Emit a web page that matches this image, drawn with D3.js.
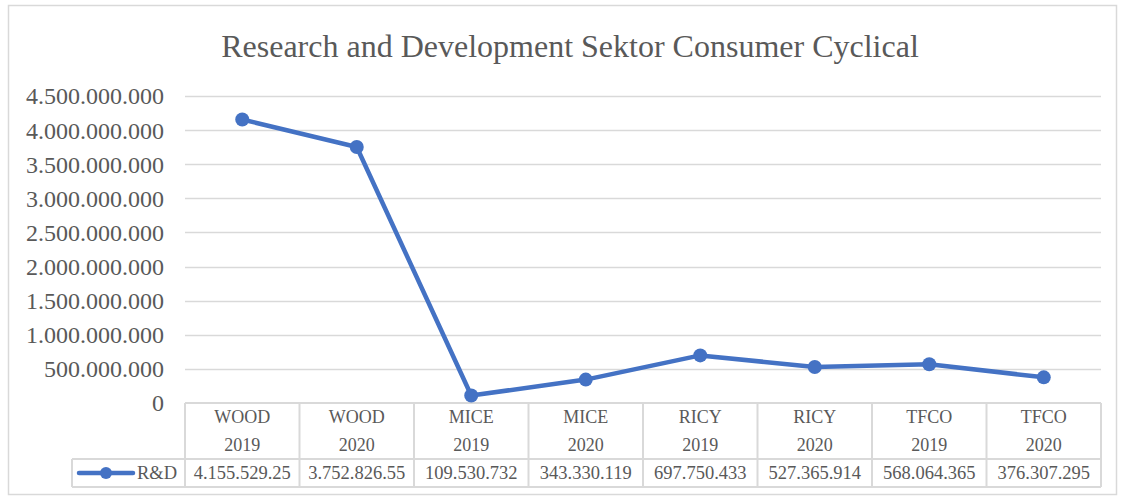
<!DOCTYPE html>
<html>
<head>
<meta charset="utf-8">
<script src="https://cdn.jsdelivr.net/npm/d3@7"></script>
<style>
  body { margin: 0; background: #fff; }
  text { font-family: "Liberation Serif", "Times New Roman", serif; fill: #595959; }
</style>
</head>
<body>
<div id="chart"></div>
<script>
// Data
const companies = ["WOOD", "WOOD", "MICE", "MICE", "RICY", "RICY", "TFCO", "TFCO"];
const years = ["2019", "2020", "2019", "2020", "2019", "2020", "2019", "2020"];
const rdValues = [4155529250, 3752826550, 109530732, 343330119, 697750433, 527365914, 568064365, 376307295];
const rdLabels = ["4.155.529.25", "3.752.826.55", "109.530.732", "343.330.119", "697.750.433", "527.365.914", "568.064.365", "376.307.295"];
const yTicks = [0, 500000000, 1000000000, 1500000000, 2000000000, 2500000000, 3000000000, 3500000000, 4000000000, 4500000000];
const seriesName = "R&D";
const chartTitle = "Research and Development Sektor Consumer Cyclical";

const width = 1137;
const height = 499;
const plot = { left: 185, right: 1101, top: 96, bottom: 403 };
const lineColor = "#4472C4";
const gridColor = "#d9d9d9";

const svg = d3.select("#chart")
  .append("svg")
  .attr("width", width)
  .attr("height", height);

// Outer border
svg.append("rect")
  .attr("x", 8.5).attr("y", 5.5)
  .attr("width", 1108).attr("height", 489)
  .attr("fill", "#fff")
  .attr("stroke", gridColor)
  .attr("stroke-width", 1.5);

// Title
svg.append("text")
  .attr("x", 570)
  .attr("y", 57)
  .attr("text-anchor", "middle")
  .style("font-size", "32px")
  .text(chartTitle);

const keys = companies.map((c, i) => i);
const xScale = d3.scaleBand()
  .domain(keys)
  .range([plot.left, plot.right])
  .padding(0);

const yScale = d3.scaleLinear()
  .domain([0, 4500000000])
  .range([plot.bottom, plot.top]);

const fmt = v => v === 0 ? "0" : d3.format(",")(v).replace(/,/g, ".");

// Gridlines
svg.append("g")
  .selectAll("line")
  .data(yTicks.filter(d => d > 0))
  .enter().append("line")
    .attr("x1", plot.left)
    .attr("x2", plot.right)
    .attr("y1", d => Math.round(yScale(d)) + 0.5)
    .attr("y2", d => Math.round(yScale(d)) + 0.5)
    .attr("stroke", gridColor)
    .attr("stroke-width", 1.5);

// Y tick labels
svg.append("g")
  .selectAll("text")
  .data(yTicks)
  .enter().append("text")
    .attr("x", 164)
    .attr("y", d => yScale(d))
    .attr("dy", "0.35em")
    .attr("text-anchor", "end")
    .style("font-size", "24px")
    .text(fmt);

// Data table
const table = svg.append("g");
const rowTop = plot.bottom, rowMid = 459, rowBot = 487, legendLeft = 72;

table.append("line")
  .attr("x1", plot.left).attr("x2", plot.right)
  .attr("y1", rowTop).attr("y2", rowTop);
table.append("line")
  .attr("x1", legendLeft).attr("x2", plot.right)
  .attr("y1", rowMid).attr("y2", rowMid);
table.append("line")
  .attr("x1", legendLeft).attr("x2", plot.right)
  .attr("y1", rowBot).attr("y2", rowBot);
table.append("line")
  .attr("x1", legendLeft).attr("x2", legendLeft)
  .attr("y1", rowMid).attr("y2", rowBot);

table.selectAll(".vline")
  .data(keys.concat([keys.length]))
  .enter().append("line")
    .attr("class", "vline")
    .attr("x1", d => d < keys.length ? xScale(d) : plot.right)
    .attr("x2", d => d < keys.length ? xScale(d) : plot.right)
    .attr("y1", rowTop).attr("y2", rowBot);

table.selectAll("line")
  .attr("stroke", gridColor)
  .attr("stroke-width", 2);

const cx = i => xScale(i) + xScale.bandwidth() / 2;

table.selectAll(".cat1")
  .data(keys)
  .enter().append("text")
    .attr("x", cx)
    .attr("y", 417)
    .attr("dy", "0.35em")
    .attr("text-anchor", "middle")
    .style("font-size", "18px")
    .text(i => companies[i]);

table.selectAll(".cat2")
  .data(keys)
  .enter().append("text")
    .attr("x", cx)
    .attr("y", 445)
    .attr("dy", "0.35em")
    .attr("text-anchor", "middle")
    .style("font-size", "18px")
    .text(i => years[i]);

table.selectAll(".val")
  .data(keys)
  .enter().append("text")
    .attr("x", cx)
    .attr("y", 473)
    .attr("dy", "0.35em")
    .attr("text-anchor", "middle")
    .style("font-size", "18.5px")
    .text(i => rdLabels[i]);

// Legend key in table
table.append("line")
  .attr("x1", 79).attr("x2", 133)
  .attr("y1", 473).attr("y2", 473)
  .attr("stroke", lineColor)
  .attr("stroke-width", 4.5)
  .attr("stroke-linecap", "round");
table.append("circle")
  .attr("cx", 106).attr("cy", 473).attr("r", 6)
  .attr("fill", lineColor);
table.append("text")
  .attr("x", 137)
  .attr("y", 473)
  .attr("dy", "0.35em")
  .style("font-size", "18.5px")
  .text(seriesName);

// Line + markers
const line = d3.line()
  .x(i => cx(i))
  .y(i => yScale(rdValues[i]));

svg.append("path")
  .datum(keys)
  .attr("fill", "none")
  .attr("stroke", lineColor)
  .attr("stroke-width", 4.5)
  .attr("stroke-linejoin", "round")
  .attr("d", line);

svg.append("g")
  .selectAll("circle")
  .data(keys)
  .enter().append("circle")
    .attr("cx", cx)
    .attr("cy", i => yScale(rdValues[i]))
    .attr("r", 7)
    .attr("fill", lineColor);
</script>
</body>
</html>
